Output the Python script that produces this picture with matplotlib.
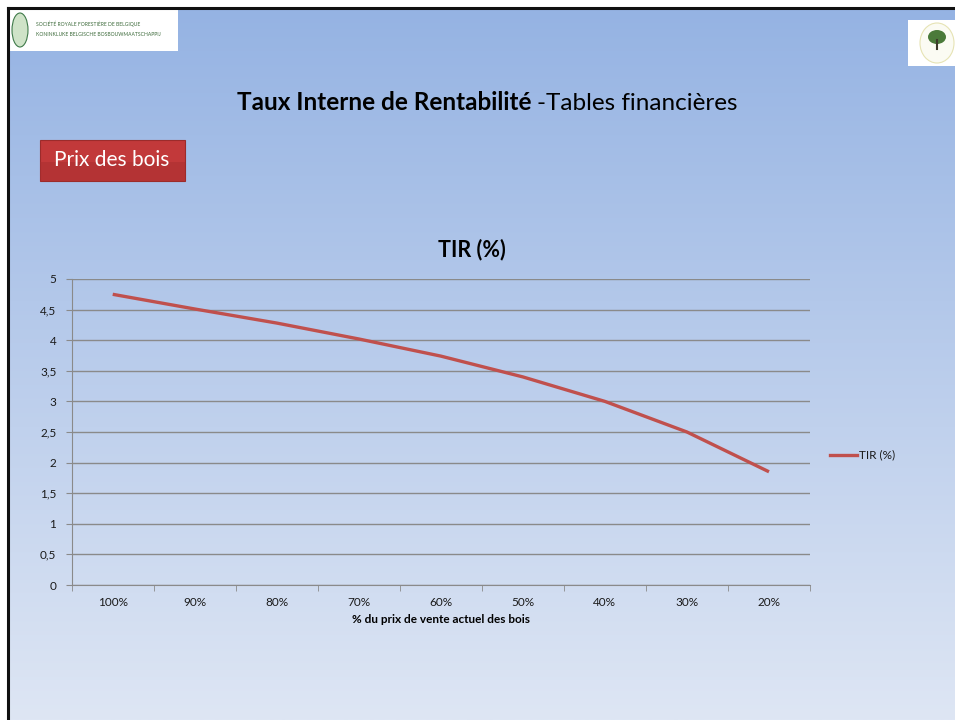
import numpy as np
import matplotlib.pyplot as plt
from matplotlib.patches import Rectangle, Ellipse

plt.rcParams['font.family'] = ['Lato', 'DejaVu Sans']

categories = ['100%', '90%', '80%', '70%', '60%', '50%', '40%', '30%', '20%']
tir = [4.75, 4.51, 4.28, 4.02, 3.74, 3.40, 3.00, 2.50, 1.85]
y_ticks = [0, 0.5, 1, 1.5, 2, 2.5, 3, 3.5, 4, 4.5, 5]
y_labels = ['0', '0,5', '1', '1,5', '2', '2,5', '3', '3,5', '4', '4,5', '5']

W, H = 955, 720
fig = plt.figure(figsize=(W / 100, H / 100), dpi=100)
fig.patch.set_facecolor('white')


def px_axes(x0, y0, x1, y1, **kw):
    return fig.add_axes([x0 / W, 1 - y1 / H, (x1 - x0) / W, (y1 - y0) / H], **kw)


# slide background gradient
bg = px_axes(8, 8, W, H)
grad = np.linspace(0, 1, 256)[:, None]
top = np.array([149, 179, 227]) / 255
bot = np.array([222, 230, 244]) / 255
img = top[None, None, :] * (1 - grad[:, :, None]) + bot[None, None, :] * grad[:, :, None]
bg.imshow(img, aspect='auto', extent=[0, 1, 0, 1])
bg.set_axis_off()

# overlay axes in pixel coordinates for slide decorations
ov = fig.add_axes([0, 0, 1, 1])
ov.set_xlim(0, W)
ov.set_ylim(H, 0)
ov.set_axis_off()
ov.patch.set_alpha(0)

# slide border
ov.plot([8, 8], [8, H], color='#111111', lw=2.2)
ov.plot([8, W], [8, 8], color='#111111', lw=2.2)

# top-left logo
ov.add_patch(Rectangle((10, 10), 168, 41, facecolor='white', edgecolor='none'))
ov.add_patch(Ellipse((20, 30), 16, 34, facecolor='#cfe3c8', edgecolor='#3f7a4a', lw=0.8))
ov.text(36, 24, 'SOCIÉTÉ ROYALE FORESTIÈRE DE BELGIQUE', fontsize=3.6, color='#3c6a3a', va='center')
ov.text(36, 34, 'KONINKLIJKE BELGISCHE BOSBOUWMAATSCHAPPIJ', fontsize=3.6, color='#3c6a3a', va='center')

# top-right logo
ov.add_patch(Rectangle((908, 20), 47, 46, facecolor='white', edgecolor='none'))
ov.add_patch(Ellipse((937, 43), 34, 40, facecolor='#fbfbf3', edgecolor='#e6e3b4', lw=0.8))
ov.add_patch(Ellipse((937, 37), 18, 14, facecolor='#4b7a3a', edgecolor='none'))
ov.plot([937, 937], [40, 49], color='#3d3a2a', lw=1.5)

# slide title
ov.text(531, 103, 'Taux Interne de Rentabilité', fontsize=17.5, fontweight='bold',
        ha='right', va='center', color='black')
ov.text(537, 103, '-Tables financières', fontsize=17.5, ha='left', va='center', color='black')

# red label box
ov.add_patch(Rectangle((40, 140), 145, 41, facecolor='#c2393a', edgecolor='#9c2b2b', lw=0.8))
ov.add_patch(Rectangle((40, 162), 145, 19, facecolor='#a82e2f', edgecolor='none', alpha=0.5))
ov.text(112, 160, 'Prix des bois', fontsize=15, color='white', ha='center', va='center')

# chart
ax = px_axes(71.7, 279, 810, 585)
ax.patch.set_alpha(0)
x = np.arange(len(categories))
line, = ax.plot(x, tir, color='#c0504d', lw=2.4, solid_capstyle='butt')
ax.set_xlim(-0.5, len(categories) - 0.5)
ax.set_ylim(0, 5)
ax.set_yticks(y_ticks)
ax.set_yticklabels(y_labels)
ax.yaxis.grid(True, color='#8a8a8a', lw=1)
ax.set_axisbelow(True)
ax.set_xticks(x)
ax.set_xticklabels(categories)
ax.set_xticks(np.arange(-0.5, len(categories)), minor=True)
ax.tick_params(axis='x', which='major', length=0, pad=9, labelsize=8.5, colors='#1a1a1a')
ax.tick_params(axis='x', which='minor', length=4, color='#8a8a8a', direction='out')
ax.tick_params(axis='y', length=4, color='#8a8a8a', labelsize=8.5, colors='#1a1a1a', pad=7)
for s in ['top', 'right']:
    ax.spines[s].set_visible(False)
ax.spines['left'].set_color('#8a8a8a')
ax.spines['bottom'].set_color('#8a8a8a')
ax.set_xlabel('% du prix de vente actuel des bois', fontsize=8.5, fontweight='bold', labelpad=4)

# chart title (centred on the whole chart area incl. legend)
ov.text(472, 250, 'TIR (%)', fontsize=15.5, fontweight='bold', ha='center', va='center')

# legend
ov.plot([830, 857], [455, 455], color='#c0504d', lw=2.4)
ov.text(859, 455, 'TIR (%)', fontsize=8.5, va='center', color='#1a1a1a')

fig.savefig('out.png', dpi=100)
